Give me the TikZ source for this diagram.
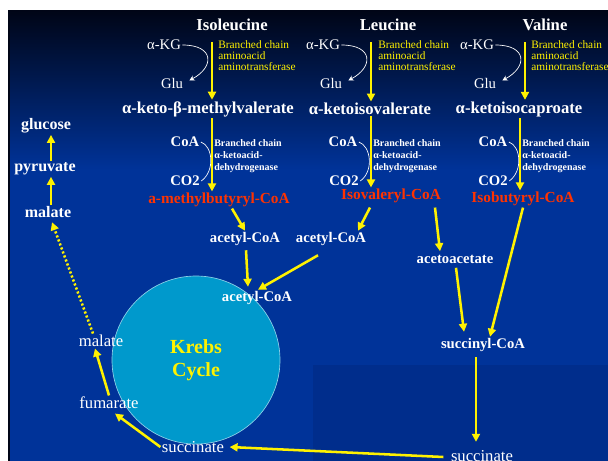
\documentclass[tikz,border=0pt]{standalone}
\usepackage{fontspec}
\setmainfont{Liberation Serif}
\usetikzlibrary{arrows.meta,calc}

\definecolor{slideblue}{RGB}{0,51,153}
\definecolor{slidedark}{RGB}{0,5,22}
\definecolor{boxblue}{RGB}{0,45,140}
\definecolor{krebsfill}{RGB}{0,153,204}
\definecolor{acylred}{RGB}{255,51,0}

\tikzset{
  amino/.style={text=white,inner sep=1pt,font=\fontsize{12.5}{14}\selectfont\bfseries},
  keto/.style={text=white,inner sep=1pt,font=\fontsize{12.5}{15}\selectfont\bfseries},
  cofac/.style={text=white,inner sep=1pt,font=\fontsize{11}{13}\selectfont},
  cofacb/.style={text=white,inner sep=1pt,font=\fontsize{11}{13}\selectfont\bfseries},
  enzA/.style={text=yellow,inner sep=0pt,anchor=north west,align=left,font=\fontsize{8.5}{8.3}\selectfont},
  enzB/.style={text=white,inner sep=0pt,anchor=north west,align=left,font=\fontsize{7.5}{9}\selectfont\bfseries},
  acyl/.style={text=acylred,inner sep=1pt,font=\fontsize{11.5}{13}\selectfont\bfseries},
  met/.style={text=white,inner sep=1pt,font=\fontsize{11}{13}\selectfont\bfseries},
  tca/.style={text=white,inner sep=1pt,font=\fontsize{12.5}{14}\selectfont},
  flow/.style={yellow,line width=1.9pt,-{Triangle[length=6pt,width=6pt]}},
  swing/.style={white,line width=0.5pt},
}

\begin{document}
\begin{tikzpicture}[x=0.75pt,y=-0.75pt]
    \useasboundingbox (0,0) rectangle (608,461);
    %% Draw the slide
    \fill[white] (0,0) rectangle (608,461);
    \fill[slideblue] (8,10) rectangle (608,461);
    \shade[top color=slidedark,bottom color=slideblue] (8,10) rectangle (608,170);
    \fill[boxblue] (313,365) rectangle (608,461);
    \fill[slidedark] (8,10) rectangle (10,461);
    %% Draw the cycle
    \node (Krebs) [circle,fill=krebsfill,draw=krebsfill!45!white,line width=0.5pt,
      minimum size=126pt,text=yellow,align=center,
      font=\fontsize{15}{17}\selectfont\bfseries] at (196,360) {Krebs\\Cycle};
    %% Draw the amino acids
    \node[amino] (Ile) at (232,25) {Isoleucine};
    \node[amino] (Leu) at (388,25) {Leucine};
    \node[amino] (Val) at (545,25) {Valine};
    %% Draw the transamination
    \node[cofac] (AKG1) at (164,45) {α-KG};
    \node[cofac] (Glu1) at (172,83) {Glu};
    \node[cofac] (AKG2) at (323,45) {α-KG};
    \node[cofac] (Glu2) at (331,83) {Glu};
    \node[cofac] (AKG3) at (477,45) {α-KG};
    \node[cofac] (Glu3) at (485,83) {Glu};
    \node[enzA] (EA1) at (218,40) {Branched chain\\aminoacid\\aminotransferase};
    \node[enzA] (EA2) at (378,40) {Branched chain\\aminoacid\\aminotransferase};
    \node[enzA] (EA3) at (531,40) {Branched chain\\aminoacid\\aminotransferase};
    %% Draw the keto acids
    \node[keto] (KMV) at (208,109) {α-keto-β-methylvalerate};
    \node[keto] (KIV) at (370,109) {α-ketoisovalerate};
    \node[keto] (KIC) at (519,109) {α-ketoisocaproate};
    %% Draw the decarboxylation
    \node[cofacb] (CoA1) at (185,142) {CoA};
    \node[cofacb] (CO21) at (185,181) {CO2};
    \node[cofacb] (CoA2) at (343,142) {CoA};
    \node[cofacb] (CO22) at (344,181) {CO2};
    \node[cofacb] (CoA3) at (493,142) {CoA};
    \node[cofacb] (CO23) at (493,181) {CO2};
    \node[enzB] (EB1) at (214,139) {Branched chain\\α-ketoacid-\\dehydrogenase};
    \node[enzB] (EB2) at (373,139) {Branched chain\\α-ketoacid-\\dehydrogenase};
    \node[enzB] (EB3) at (522,139) {Branched chain\\α-ketoacid-\\dehydrogenase};
    %% Draw the acyl-CoA
    \node[acyl] (MBC) at (219,200) {a-methylbutyryl-CoA};
    \node[acyl] (IVC) at (391,196) {Isovaleryl-CoA};
    \node[acyl] (IBC) at (523,199) {Isobutyryl-CoA};
    %% Draw the products
    \node[met] (AC1) at (245,239) {acetyl-CoA};
    \node[met] (AC2) at (331,239) {acetyl-CoA};
    \node[met] (AC3) at (257,298) {acetyl-CoA};
    \node[met] (AA) at (455,259) {acetoacetate};
    \node[met] (SCoA) at (483,345) {succinyl-CoA};
    \node[tca] (SucR) at (482,456) {succinate};
    \node[tca] (SucL) at (193,447) {succinate};
    \node[tca] (Fum) at (109,403) {fumarate};
    \node[tca] (MalL) at (101,341) {malate};
    \node[met,font=\fontsize{12}{14}\selectfont\bfseries] (MalT) at (48,212) {malate};
    \node[met,font=\fontsize{12}{14}\selectfont\bfseries] (Pyr) at (45,169) {pyruvate};
    \node[met,font=\fontsize{12}{14}\selectfont\bfseries] (Glc) at (46,126) {glucose};
    %% Draw the columns
    \coordinate (IleX) at (212,0);
    \coordinate (LeuX) at (371,0);
    \coordinate (ValX) at (525,0);
    \coordinate (ValY) at (520,0);
    \coordinate (LeftX) at (51,0);
    %% Draw the side reactions
    \begin{scope}[every path/.style={swing}]
      \draw[-{Stealth[length=4pt,width=4pt]},shorten >=4pt] (AKG1.east) .. controls +(32,0) and +(30,-16) .. (Glu1.east);
      \draw[-{Stealth[length=4pt,width=4pt]},shorten >=4pt] (AKG2.east) .. controls +(32,0) and +(30,-16) .. (Glu2.east);
      \draw[-{Stealth[length=4pt,width=4pt]},shorten >=4pt] (AKG3.east) .. controls +(32,0) and +(30,-16) .. (Glu3.east);
      \draw (CoA1.east) .. controls +(12,4) and +(14,-10) .. (CO21.east);
      \draw (CoA2.east) .. controls +(12,4) and +(14,-10) .. (CO22.east);
      \draw (CoA3.east) .. controls +(12,4) and +(14,-10) .. (CO23.east);
    \end{scope}
    %% Draw the edges
    \begin{scope}[every path/.style={flow}]
      \draw[shorten <=7pt] (Ile.south -| IleX) -- (KMV.north -| IleX);
      \draw[shorten <=7pt] (Leu.south -| LeuX) -- (KIV.north -| LeuX);
      \draw[shorten <=7pt] (Val.south -| ValX) -- (KIC.north -| ValX);
      \draw (KMV.south -| IleX) -- (MBC.north -| IleX);
      \draw (KIV.south -| LeuX) -- (IVC.north -| LeuX);
      \draw (KIC.south -| ValY) -- (IBC.north -| ValY);
      \draw ($(MBC.south)+(13,0)$) -- (AC1.north);
      \draw ($(IVC.south)+(-21,3)$) -- ($(AC2.north)+(27,0)$);
      \draw ($(AC1.south)+(1,3)$) -- ($(AC3.north)+(-9,-3)$);
      \draw ($(AC2.south)+(-13,8)$) -- ($(AC3.north)+(1,0)$);
      \draw ($(IVC.south)+(44,3)$) -- ($(AA.north)+(-15,-2)$);
      \draw ($(AA.south)+(1,3)$) -- ($(SCoA.north)+(-19,-5)$);
      \draw (IBC.south) -- ($(SCoA.north)+(7,0)$);
      \draw ($(SCoA.south)+(-7,4)$) -- ($(SucR.north)+(-6,-7)$);
      \draw ($(SucR.west)+(-6,1)$) -- ($(SucL.east)+(4,0)$);
      \draw (SucL.west) -- ($(Fum.south)+(6,3)$);
      \draw (Fum.north) -- ($(MalL.south)+(-6,0)$);
      \draw[dash pattern=on 1.6pt off 1.6pt] ($(MalL.north)+(-8,0)$) -- ($(MalT.south)+(4,3)$);
      \draw (MalT.north -| LeftX) -- (Pyr.south -| LeftX);
      \draw (Pyr.north -| LeftX) -- (Glc.south -| LeftX);
    \end{scope}
  \end{tikzpicture}
\end{document}
